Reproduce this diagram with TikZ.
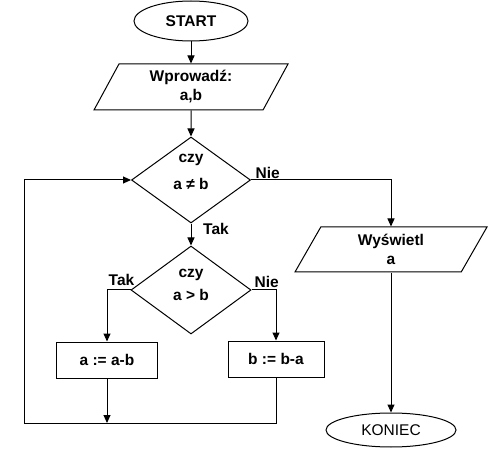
\documentclass[tikz,border=0pt]{standalone}
\usepackage{fontspec}
\setmainfont{Liberation Sans}
\usetikzlibrary{shapes.geometric,arrows.meta}
\begin{document}
\begin{tikzpicture}[x=1pt,y=-1pt,
  every node/.style={font=\fontsize{15.5}{19}\selectfont\bfseries},
  base/.style={draw,line width=1pt,inner sep=0pt,align=center},
  term/.style={base,ellipse,minimum width=114pt,minimum height=40pt},
  io/.style={base,trapezium,trapezium stretches body},
  dec/.style={base,diamond},
  proc/.style={base,rectangle,minimum height=36pt},
  conn/.style={line width=1pt,-{Triangle[length=8pt,width=7pt]}},
  lbl/.style={inner sep=1pt}]
\useasboundingbox (0,0) rectangle (493,457);

\node[term] (start) at (191,21) {START};
\node[io,trapezium left angle=52.7,trapezium right angle=127.3,
      minimum width=194pt,minimum height=46pt] (in) at (191,87) {Wprowadź:\\a,b};
\node[dec,minimum width=119pt,minimum height=86pt,
      label={[yshift=8.5pt,align=center]center:{czy\\[8pt]a ≠ b}}] (d1) at (191,180) {};
\node[dec,minimum width=120pt,minimum height=88pt,
      label={[yshift=5.5pt,align=center]center:{czy\\[4pt]a > b}}] (d2) at (191,290) {};
\node[io,trapezium left angle=49.8,trapezium right angle=130.2,
      minimum width=192pt,minimum height=45pt] (out) at (391,249.5) {Wyświetl\\a};
\node[proc,minimum width=101pt] (a) at (107,360) {a := a-b};
\node[proc,minimum width=96pt] (b) at (276,359) {b := b-a};
\node[term,minimum width=130pt,minimum height=34pt,
      font=\fontsize{15.5}{19}\selectfont\mdseries] (koniec) at (391,430) {KONIEC};

\coordinate (j) at (107,423);
\coordinate (lc) at (24,423);

\draw[conn] (start) -- (in);
\draw[conn] (in) -- (d1);
\draw[conn] (d1) -- (d2);
\draw[conn] (d1.east) -| (out.north);
\draw[conn] (out) -- (koniec);
\draw[conn] (d2.west) -| (a.north);
\draw[conn] (d2.east) -| (b.north);
\draw[conn] (a.south) -- (j);
\draw[conn] (b.south) |- (lc) |- (d1.west);

\node[lbl,anchor=south west,xshift=3.5pt] (nie1) at (d1.east) {Nie};
\node[lbl,anchor=north west,xshift=11pt,yshift=1pt] (tak1) at (d1.south) {Tak};
\node[lbl,anchor=south east,xshift=5pt,yshift=3.5pt] (tak2) at (d2.west) {Tak};
\node[lbl,anchor=south west,xshift=2pt,yshift=1.5pt] (nie2) at (d2.east) {Nie};
\end{tikzpicture}
\end{document}
